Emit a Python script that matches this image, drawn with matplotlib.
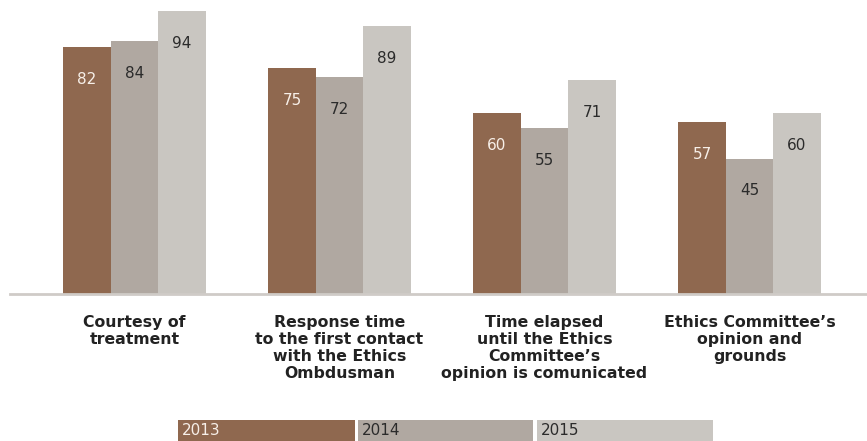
import matplotlib
matplotlib.use("Agg")
import matplotlib.pyplot as plt
from matplotlib.patches import Rectangle
import numpy as np

categories = ["Courtesy of\ntreatment",
              "Response time\nto the first contact\nwith the Ethics\nOmbdusman",
              "Time elapsed\nuntil the Ethics\nCommittee\u2019s\nopinion is comunicated",
              "Ethics Committee\u2019s\nopinion and\ngrounds"]
series_names = ["2013", "2014", "2015"]
values_2013 = [82, 75, 60, 57]
values_2014 = [84, 72, 55, 45]
values_2015 = [94, 89, 71, 60]
series_values = [values_2013, values_2014, values_2015]
colors = ["#8f684f", "#b0a8a1", "#c9c6c1"]
label_colors = ["#f7efe8", "#2b2b2b", "#2b2b2b"]

W, H = 867, 441
fig = plt.figure(figsize=(W / 100, H / 100), dpi=100)
ax = fig.add_axes([10 / W, (H - 294) / H, 1 - 10 / W, 294 / H])

x = np.arange(len(categories))
bw = 47.5 / 205
for k, (vals, c, lc) in enumerate(zip(series_values, colors, label_colors)):
    xs = x + (k - 1) * bw
    ax.bar(xs, vals, width=bw, color=c, linewidth=0)
    for xi, v in zip(xs, vals):
        ax.annotate(str(v), (xi, v), xytext=(0, -32), textcoords="offset pixels",
                    ha="center", va="center", fontsize=11, color=lc)

ax.set_xlim((10 - 134.5) / 205, (867 - 134.5) / 205)
ax.set_ylim(0, 294 / 3.01)
for s in ["top", "right", "left"]:
    ax.spines[s].set_visible(False)
ax.spines["bottom"].set_color("#cfcbc7")
ax.spines["bottom"].set_linewidth(2)
ax.set_yticks([])
ax.set_xticks(x)
ax.set_xticklabels(categories, fontsize=11.3, fontweight="bold", color="#222222",
                   linespacing=1.16, va="top")
ax.tick_params(axis="x", length=0, pad=15)

# legend boxes
boxes = [(178, 355), (358, 533), (537, 713)]
for (x0, x1), name, c, lc in zip(boxes, series_names, colors, label_colors):
    fig.add_artist(Rectangle((x0 / W, 0), (x1 - x0) / W, 21 / H, transform=fig.transFigure,
                             facecolor=c, edgecolor="none"))
    fig.text((x0 + 4) / W, 10.5 / H, name, fontsize=11, color=lc, ha="left", va="center")

fig.savefig("out.png", dpi=100)
